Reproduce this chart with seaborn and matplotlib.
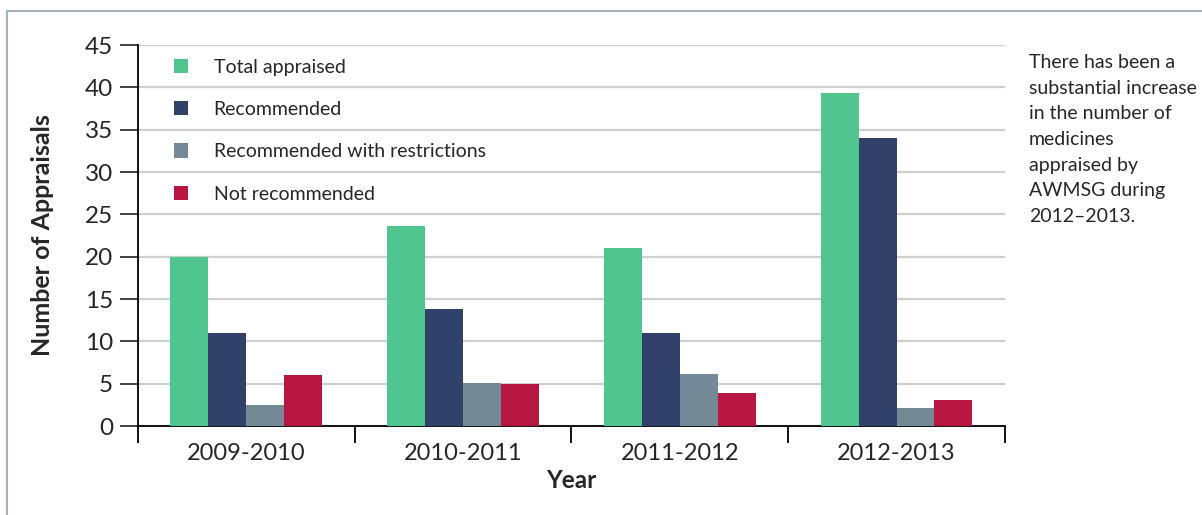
import pandas as pd
import seaborn as sns
import matplotlib.pyplot as plt
from matplotlib.patches import Rectangle
from matplotlib.lines import Line2D

years = ['2009-2010', '2010-2011', '2011-2012', '2012-2013']
series = ['Total appraised', 'Recommended', 'Recommended with restrictions', 'Not recommended']
total_appraised = [20, 23.6, 21, 39.3]
recommended = [11, 13.8, 11, 34]
with_restrictions = [2.5, 5.1, 6.2, 2.1]
not_recommended = [6, 5, 3.9, 3.1]
colors = ['#50c58f', '#32416a', '#738a96', '#b71542']

note = ("There has been a\nsubstantial increase\nin the number of\nmedicines\n"
        "appraised by\nAWMSG during\n2012\u20132013.")


def build_frame():
    rows = []
    for name, vals in zip(series, [total_appraised, recommended, with_restrictions, not_recommended]):
        for yr, v in zip(years, vals):
            rows.append({'Year': yr, 'Series': name, 'Value': v})
    return pd.DataFrame(rows)


def main():
    sns.set_style('white')
    plt.rcParams['font.family'] = ['Lato', 'DejaVu Sans']

    df = build_frame()
    fig = plt.figure(figsize=(12.02, 5.15), dpi=100)
    ax = fig.add_axes([0.1148, 0.1728, 0.7212, 0.7398])

    sns.barplot(data=df, x='Year', y='Value', hue='Series', palette=colors,
                width=0.7, saturation=1, linewidth=0, ax=ax, legend=False, zorder=3)

    ax.set_ylim(0, 45)
    ax.set_xlim(-0.5, 3.5)
    ax.set_yticks(range(0, 46, 5))
    ax.yaxis.grid(True, color='#cfcfcf', linewidth=1.6, zorder=0)
    ax.set_axisbelow(True)

    for s in ['top', 'right']:
        ax.spines[s].set_visible(False)
    for s in ['left', 'bottom']:
        ax.spines[s].set_color('black')
        ax.spines[s].set_linewidth(1.3)

    ax.tick_params(axis='y', which='major', length=13, width=1.3, color='#333333',
                   labelsize=17.5, pad=5, left=True)
    ax.tick_params(axis='x', which='major', length=0, labelsize=17, pad=12)
    ax.set_xticks([-0.5, 0.5, 1.5, 2.5, 3.5], minor=True)
    ax.tick_params(axis='x', which='minor', length=12, width=1.3, color='black', bottom=True)

    ax.set_xlabel('Year', fontsize=17.5, fontweight='bold', labelpad=4)
    ax.set_ylabel('Number of Appraisals', fontsize=18, fontweight='bold', labelpad=22)

    handles = [Rectangle((0, 0), 1, 1, facecolor=c, edgecolor='none') for c in colors]
    ax.legend(handles, series, loc='upper left', bbox_to_anchor=(0.021, 1.01),
              frameon=False, fontsize=14, handlelength=0.75, handleheight=0.75,
              handletextpad=1.3, labelspacing=1.3)

    fig.text(0.856, 0.895, note, fontsize=14, va='top', ha='left', linespacing=1.62)

    # thin frame lines along the top and left of the figure
    fig.add_artist(Line2D([0.006, 1.0], [0.979, 0.979], color='#a3b2bd', linewidth=1.5))
    fig.add_artist(Line2D([0.006, 0.006], [0.0, 0.979], color='#a3b2bd', linewidth=1.5))

    fig.savefig('out.png', dpi=100)
    plt.close(fig)


if __name__ == '__main__':
    main()
